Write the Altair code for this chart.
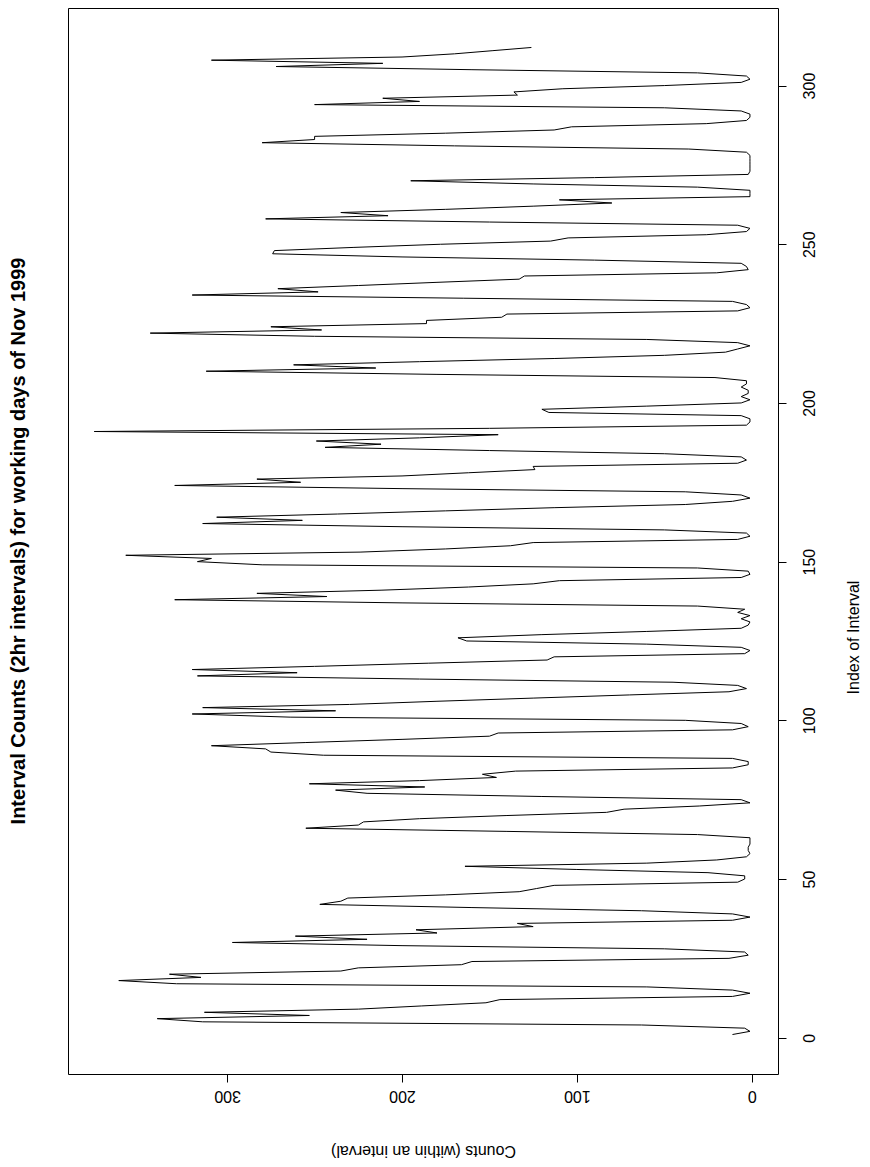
import altair as alt
import pandas as pd

# Two-hour interval counts, 12 intervals per working day, in time order.
days_01_05 = [
    11, 1, 4, 63, 314, 340, 253, 313, 225, 189, 152, 144,
    11, 1, 11, 60, 329, 362, 315, 333, 235, 225, 166, 160,
    13, 2, 4, 50, 200, 297, 220, 261, 180, 192, 125, 134,
    11, 1, 11, 63, 160, 247, 235, 231, 175, 133, 123, 113,
    8, 4, 4, 25, 100, 164, 60, 20, 3, 1, 2, 2,
]
days_06_10 = [
    1, 1, 1, 31, 140, 255, 225, 222, 190, 140, 83, 73,
    30, 1, 6, 120, 220, 238, 187, 253, 190, 146, 154, 135,
    11, 2, 2, 11, 245, 275, 278, 309, 255, 200, 150, 145,
    11, 2, 6, 38, 264, 320, 238, 314, 230, 180, 125, 70,
    13, 3, 8, 45, 190, 317, 260, 320, 250, 185, 117, 113,
]
days_11_15 = [
    4, 1, 6, 60, 163, 168, 120, 60, 6, 2, 1, 6,
    1, 8, 4, 31, 200, 330, 243, 283, 212, 162, 125, 110,
    6, 1, 2, 31, 280, 317, 309, 358, 224, 175, 138, 125,
    8, 1, 3, 50, 200, 314, 257, 306, 237, 175, 113, 38,
    11, 1, 6, 38, 200, 330, 258, 283, 200, 162, 124, 125,
]
days_16_20 = [
    8, 3, 6, 50, 150, 244, 212, 249, 190, 145, 376, 150,
    3, 1, 1, 6, 116, 120, 60, 6, 1, 6, 2, 2,
    6, 3, 3, 21, 180, 312, 215, 262, 190, 113, 50, 15,
    8, 1, 8, 60, 250, 344, 246, 275, 186, 186, 143, 140,
    8, 1, 3, 11, 165, 320, 248, 271, 225, 180, 133, 130,
]
days_21_26 = [
    20, 2, 3, 6, 90, 200, 274, 273, 228, 178, 115, 105,
    26, 3, 1, 8, 150, 278, 208, 235, 175, 125, 80, 110,
    1, 1, 1, 31, 125, 195, 90, 2, 1, 1, 1, 1,
    1, 1, 3, 36, 170, 280, 250, 250, 175, 113, 103, 26,
    3, 1, 1, 6, 50, 250, 190, 211, 134, 136, 108, 50,
    6, 1, 3, 31, 160, 272, 211, 309, 200, 170, 148, 126,
]

count_ticks = [0, 100, 200, 300]
index_ticks = [0, 50, 100, 150, 200, 250, 300]

counts = days_01_05 + days_06_10 + days_11_15 + days_16_20 + days_21_26
df = pd.DataFrame({"interval": list(range(1, len(counts) + 1)), "count": counts})

# R-style 4% padding around the data range on both axes
cmax = max(counts)
n = len(counts)
count_dom = [-0.04 * cmax, cmax * 1.04]
index_dom = [1 - 0.04 * (n - 1), n + 0.04 * (n - 1)]

FONT = "Liberation Sans"

chart = (
    alt.Chart(df)
    .mark_line(color="black", strokeWidth=1)
    .encode(
        x=alt.X(
            "count:Q",
            scale=alt.Scale(domain=count_dom, reverse=True, nice=False, zero=False),
            axis=alt.Axis(
                values=count_ticks,
                grid=False,
                domain=False,
                title="Counts (within an interval)",
                labelAngle=180,
                labelAlign="center",
                labelBaseline="middle",
                labelPadding=13,
                titleAngle=180,
                titleBaseline="middle",
                titleX=355,
                titleY=76,
            ),
        ),
        y=alt.Y(
            "interval:Q",
            scale=alt.Scale(domain=index_dom, nice=False, zero=False),
            axis=alt.Axis(
                orient="right",
                values=index_ticks,
                grid=False,
                domain=False,
                title="Index of Interval",
                labelAngle=270,
                labelAlign="center",
                labelBaseline="middle",
                labelPadding=23,
                titleAngle=270,
                titleBaseline="middle",
                titleX=75,
                titleY=629,
            ),
        ),
        order="interval:Q",
    )
    .properties(
        width=710,
        height=1066,
        background="white",
        title=alt.TitleParams(
            "Interval Counts (2hr intervals) for working days of Nov 1999",
            orient="left",
            anchor="middle",
            baseline="middle",
            font=FONT,
            fontSize=20,
            fontWeight="bold",
            color="black",
            offset=29,
        ),
        autosize=alt.AutoSizeParams(type="none"),
        padding={"left": 68, "top": 8, "right": 92, "bottom": 93},
    )
    .configure_view(stroke="black", strokeWidth=1, fill="white")
    .configure_axis(
        ticks=True,
        tickSize=8,
        tickColor="black",
        tickWidth=1,
        labelFont=FONT,
        labelFontSize=16,
        labelColor="black",
        labelOverlap=False,
        labelFlush=False,
        titleFont=FONT,
        titleFontSize=16,
        titleFontWeight="normal",
        titleColor="black",
    )
)

chart.save("out.html", embed_options={"renderer": "svg", "actions": False})
